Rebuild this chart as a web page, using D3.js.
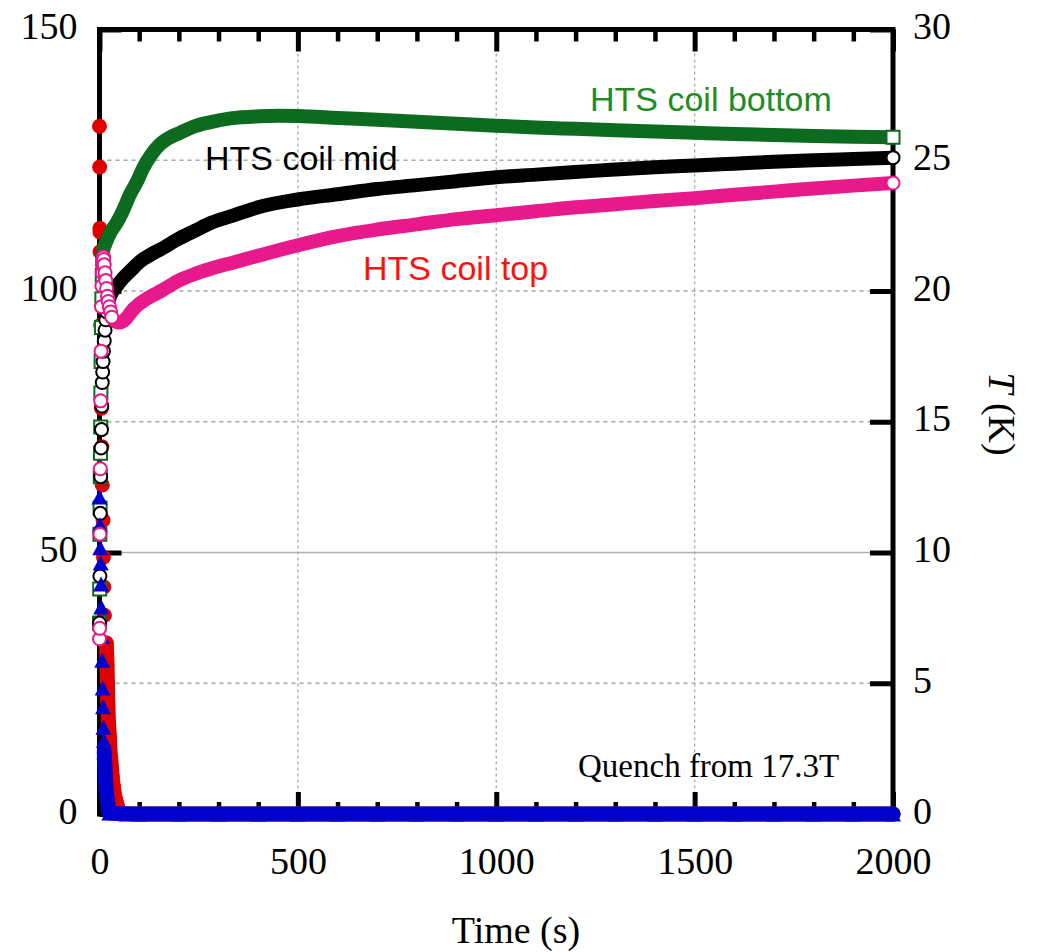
<!DOCTYPE html>
<html>
<head>
<meta charset="utf-8">
<script src="https://cdn.jsdelivr.net/npm/d3@7"></script>
<style>
  html, body { margin: 0; padding: 0; background: #fff; }
  svg { display: block; }
</style>
</head>
<body>
<svg id="chart" width="1043" height="952"></svg>
<script>
// Axis ticks
const timeTicks = [0, 500, 1000, 1500, 2000];
const currentTicks = [0, 50, 100, 150];
const tempTicks = [0, 5, 10, 15, 20, 25, 30];

// HTS coil bottom temperature (K)
const bottomTime = [0, 0.5, 1, 1.5, 2, 2.5, 3, 3.5, 4, 5, 6, 7, 8,
  10, 20, 30, 43, 60, 77, 95, 110, 130, 152, 175, 203, 240, 278, 330, 405, 450, 500,
  600, 700, 800, 900, 1000, 1100, 1200, 1300, 1400, 1500, 1600, 1700, 1800, 1900, 2000];
const bottomTemp = [7.3, 8.6, 10.7, 11.7, 12.9, 13.8, 14.8, 16.1, 17.3, 18.6, 19.7, 20.6, 21.2,
  21.6, 22.0, 22.3, 22.6, 23.1, 23.7, 24.2, 24.7, 25.2, 25.6, 25.85, 26.05, 26.3, 26.45, 26.6, 26.68, 26.7, 26.69,
  26.62, 26.55, 26.47, 26.4, 26.32, 26.25, 26.2, 26.15, 26.1, 26.05, 26.0, 25.97, 25.93, 25.9, 25.88];

// HTS coil mid temperature (K)
const midTime = [0, 1, 2, 3, 4, 5, 6, 7, 8, 9, 10, 12, 14, 16, 18,
  20, 30, 44, 60, 80, 100, 130, 155, 200, 240, 280, 340, 400, 500,
  600, 700, 800, 900, 1000, 1100, 1200, 1300, 1400, 1500, 1600, 1700, 1800, 1900, 2000];
const midTemp = [7.3, 9.1, 11.5, 12.9, 14.0, 14.7, 15.6, 16.5, 16.9, 17.3, 17.7, 18.1, 18.5, 18.9, 19.2,
  19.5, 19.9, 20.2, 20.5, 20.8, 21.1, 21.4, 21.6, 22.0, 22.3, 22.6, 22.9, 23.2, 23.5,
  23.7, 23.9, 24.05, 24.2, 24.35, 24.45, 24.55, 24.65, 24.73, 24.8, 24.87, 24.94, 25.0, 25.05, 25.1];

// HTS coil top temperature (K)
const topTime = [0, 0.5, 1, 2, 3, 4, 5, 6, 7, 8, 9, 10, 11, 12, 14, 16, 18, 20, 22, 25, 28, 31,
  35, 45, 52, 60, 70, 85, 100, 130, 155, 200, 240, 280, 340, 400, 500,
  600, 700, 800, 900, 1000, 1100, 1200, 1300, 1400, 1500, 1600, 1700, 1800, 1900, 2000];
const topTemp = [6.7, 7.1, 10.7, 13.2, 15.8, 17.7, 19.4, 20.2, 20.7, 21.0, 21.2, 21.3, 21.2, 21.0, 20.7, 20.4, 20.1, 19.8, 19.6, 19.4, 19.2, 19.0,
  18.9, 18.8, 18.8, 18.85, 19.0, 19.3, 19.5, 19.8, 20.0, 20.4, 20.65, 20.85, 21.1, 21.35, 21.75,
  22.1, 22.35, 22.55, 22.75, 22.9, 23.05, 23.2, 23.32, 23.44, 23.55, 23.68, 23.8, 23.92, 24.03, 24.13];

// Current traces (left axis)
const redTime = [0, 0.4, 1, 1.2, 1.5, 3, 5, 6, 7, 9, 10, 11, 12.5, 17, 19, 20, 21, 23, 25, 26, 28, 30, 32, 35, 39, 43, 47, 52,
  100, 200, 300, 400, 500, 600, 700, 800, 900, 1000, 1100, 1200, 1300, 1400, 1500, 1600, 1700, 1800, 1900, 2000];
const redCurrent = [131.5, 123.7, 112, 111.3, 107.5, 93.5, 77.6, 70.2, 62.9, 56.2, 49.1, 43.4, 38, 32.7, 28.5, 24.7, 21.4, 17, 14.7, 12.6, 10.9, 9, 7.1, 5.2, 3.2, 2.1, 1.0, 0,
  0, 0, 0, 0, 0, 0, 0, 0, 0, 0, 0, 0, 0, 0, 0, 0, 0, 0, 0, 0];

const blueTime = [0, 1, 2, 3, 4, 4.5, 6, 7, 8, 9, 10, 11, 12, 13, 14, 15, 16, 18, 21, 25,
  100, 200, 300, 400, 500, 600, 700, 800, 900, 1000, 1100, 1200, 1300, 1400, 1500, 1600, 1700, 1800, 1900, 2000];
const blueCurrent = [60.6, 55.3, 50.9, 48, 44, 39.6, 34, 29.4, 24.1, 20.5, 16.6, 14.1, 11.9, 10, 8.8, 7.1, 5.5, 4, 2.1, 0.2,
  0, 0, 0, 0, 0, 0, 0, 0, 0, 0, 0, 0, 0, 0, 0, 0, 0, 0, 0, 0];

const svg = d3.select("#chart");
const serif = "'Liberation Serif', 'Times New Roman', serif";
const sans = "'Liberation Sans', Arial, sans-serif";

const x = d3.scaleLinear().domain([0, 2000]).range([99.5, 893]);
const yL = d3.scaleLinear().domain([0, 150]).range([814, 29.5]);
const yR = d3.scaleLinear().domain([0, 30]).range([814, 29.5]);

// ---- grid ----
const grid = svg.append("g");
grid.selectAll("line.h").data(tempTicks.filter(v => v > 0 && v < 30)).join("line")
  .attr("x1", x(0)).attr("x2", x(2000))
  .attr("y1", d => yR(d)).attr("y2", d => yR(d))
  .attr("stroke", d => d === 10 ? "#b0b0b0" : "#a8a8a8")
  .attr("stroke-width", 1.3)
  .attr("stroke-dasharray", d => d === 10 ? null : "4,4");
grid.selectAll("line.v").data(timeTicks.filter(v => v > 0 && v < 2000)).join("line")
  .attr("x1", d => x(d)).attr("x2", d => x(d))
  .attr("y1", yR(30)).attr("y2", yR(0))
  .attr("stroke", "#a8a8a8").attr("stroke-width", 1.3)
  .attr("stroke-dasharray", "3,3");

// ---- axes ----
function styleAxis(g, width) {
  g.select(".domain").remove();
  g.selectAll(".tick line").attr("stroke", "#000").attr("stroke-width", width);
  g.selectAll(".tick text").attr("fill", "#000")
    .style("font-family", serif).style("font-size", "38px");
}
const minorTime = d3.range(100, 2000, 100).filter(v => v % 500 !== 0);

const bottomAxis = svg.append("g").attr("transform", `translate(0,${yL(0)})`)
  .call(d3.axisBottom(x).tickValues(timeTicks).tickSize(-22).tickFormat(d3.format("d")));
styleAxis(bottomAxis, 5);
bottomAxis.selectAll(".tick text").attr("y", 60).attr("dy", null);
svg.append("g").attr("transform", `translate(0,${yL(0)})`)
  .call(d3.axisBottom(x).tickValues(minorTime).tickSize(-12).tickFormat(""))
  .call(g => styleAxis(g, 4.5));

svg.append("g").attr("transform", `translate(0,${yL(150)})`)
  .call(d3.axisTop(x).tickValues(timeTicks).tickSize(-22).tickFormat(""))
  .call(g => styleAxis(g, 5));
svg.append("g").attr("transform", `translate(0,${yL(150)})`)
  .call(d3.axisTop(x).tickValues(minorTime).tickSize(-12).tickFormat(""))
  .call(g => styleAxis(g, 4.5));

const leftAxis = svg.append("g").attr("transform", `translate(${x(0)},0)`)
  .call(d3.axisLeft(yL).tickValues(currentTicks).tickSize(-22).tickPadding(22));
styleAxis(leftAxis, 5);
leftAxis.selectAll(".tick text").attr("dy", "0.24em");

const rightAxis = svg.append("g").attr("transform", `translate(${x(2000)},0)`)
  .call(d3.axisRight(yR).tickValues(tempTicks).tickSize(-23).tickPadding(20));
styleAxis(rightAxis, 5);
rightAxis.selectAll(".tick text").attr("dy", "0.24em");

// frame
svg.append("rect")
  .attr("x", x(0)).attr("y", yL(150))
  .attr("width", x(2000) - x(0)).attr("height", yL(0) - yL(150))
  .attr("fill", "none").attr("stroke", "#000").attr("stroke-width", 5);

// ---- axis titles ----
svg.append("text").attr("x", 516).attr("y", 943).attr("text-anchor", "middle")
  .style("font-family", serif).style("font-size", "38px").text("Time (s)");
const tTitle = svg.append("text")
  .attr("transform", "translate(989,414) rotate(90)")
  .attr("text-anchor", "middle")
  .style("font-family", serif).style("font-size", "38px");
tTitle.append("tspan").style("font-style", "italic").text("T");
tTitle.append("tspan").text(" (K)");

// ---- data ----
const trianglePath = "M0,-7.5L8,7.5L-8,7.5Z";
const circleOpen = d3.symbol(d3.symbolCircle, Math.PI * 6.5 * 6.5)();
const squareOpen = d3.symbol(d3.symbolSquare, 13 * 13)();

// a densely logged trace: thick band along the readings, individual markers
// for the sparse readings at the start and the final reading
function drawTrace(times, values, yScale, opts) {
  const pts = times.map((t, i) => ({ t, v: values[i] }));
  const g = svg.append("g");
  const bandPts = pts.filter(p => p.t >= opts.bandFrom);
  g.append("path")
    .attr("d", d3.line().x(p => x(p.t)).y(p => yScale(p.v)).curve(d3.curveMonotoneX)(bandPts))
    .attr("fill", "none").attr("stroke", opts.color)
    .attr("stroke-width", opts.band).attr("stroke-linecap", "round").attr("stroke-linejoin", "round");
  const marked = opts.allMarkers ? pts
    : pts.filter((p, i) => p.t < opts.bandFrom || i === pts.length - 1);
  g.selectAll("path.m").data(marked).join("path")
    .attr("class", "m")
    .attr("transform", p => `translate(${x(p.t)},${yScale(p.v)})`)
    .attr("d", opts.shape)
    .attr("fill", opts.fill)
    .attr("stroke", opts.stroke)
    .attr("stroke-width", opts.strokeWidth);
}

drawTrace(redTime, redCurrent, yL, {
  color: "#e00000", band: 15, bandFrom: 17, allMarkers: true,
  shape: d3.symbol(d3.symbolCircle, Math.PI * 7.5 * 7.5)(), fill: "#e00000", stroke: "none", strokeWidth: 0
});
drawTrace(bottomTime, bottomTemp, yR, {
  color: "#0d6b1f", band: 14, bandFrom: 10,
  shape: squareOpen, fill: "#fff", stroke: "#0d6b1f", strokeWidth: 2
});
drawTrace(midTime, midTemp, yR, {
  color: "#000", band: 14, bandFrom: 20,
  shape: circleOpen, fill: "#fff", stroke: "#000", strokeWidth: 2
});
drawTrace(blueTime, blueCurrent, yL, {
  color: "#0000cd", band: 15, bandFrom: 12, allMarkers: true,
  shape: trianglePath, fill: "#0000cd", stroke: "none", strokeWidth: 0
});
drawTrace(topTime, topTemp, yR, {
  color: "#e8198b", band: 14, bandFrom: 35,
  shape: circleOpen, fill: "#fff", stroke: "#e8198b", strokeWidth: 2
});

// ---- labels ----
svg.append("text").attr("x", 590).attr("y", 111)
  .style("font-family", sans).style("font-size", "34px").attr("fill", "#1f8c1f")
  .text("HTS coil bottom");
svg.append("text").attr("x", 205).attr("y", 170)
  .style("font-family", sans).style("font-size", "34px").attr("fill", "#000")
  .text("HTS coil mid");
svg.append("text").attr("x", 363).attr("y", 280)
  .style("font-family", sans).style("font-size", "34px").attr("fill", "#ff1010")
  .text("HTS coil top");
svg.append("text").attr("x", 578).attr("y", 777)
  .style("font-family", serif).style("font-size", "33px").attr("fill", "#000")
  .text("Quench from 17.3T");
</script>
</body>
</html>
